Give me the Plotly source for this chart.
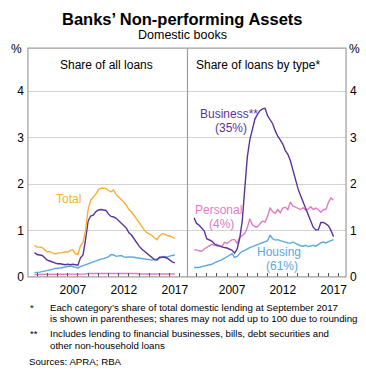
import plotly.graph_objects as go

# ---------------- data (quarterly, Sep 2003 - Jun 2017) ----------------
dates = [2003.75 + 0.25 * i for i in range(56)]

total_all = [0.68, 0.64, 0.64, 0.63, 0.58, 0.54, 0.54, 0.52, 0.49, 0.51,
             0.51, 0.52, 0.54, 0.53, 0.57, 0.58, 0.50, 0.48, 0.67, 0.74,
             1.00, 1.45, 1.65, 1.71, 1.78, 1.87, 1.91, 1.91, 1.90, 1.86,
             1.83, 1.87, 1.77, 1.72, 1.67, 1.61, 1.54, 1.45, 1.40, 1.32,
             1.25, 1.17, 1.08, 1.01, 0.95, 0.92, 0.89, 0.84, 0.80, 0.88,
             0.93, 0.92, 0.89, 0.88, 0.86, 0.83]
business_all = [0.52, 0.48, 0.47, 0.46, 0.41, 0.36, 0.34, 0.32, 0.30, 0.28,
                0.28, 0.27, 0.26, 0.27, 0.26, 0.27, 0.26, 0.25, 0.41, 0.47,
                0.80, 1.20, 1.31, 1.33, 1.40, 1.44, 1.45, 1.44, 1.43, 1.35,
                1.30, 1.29, 1.26, 1.21, 1.16, 1.11, 1.05, 0.95, 0.90, 0.82,
                0.73, 0.66, 0.60, 0.55, 0.50, 0.45, 0.41, 0.37, 0.36, 0.42,
                0.42, 0.42, 0.40, 0.35, 0.32, 0.30]
housing_all = [0.09, 0.09, 0.10, 0.11, 0.12, 0.13, 0.14, 0.16, 0.18, 0.18,
               0.19, 0.20, 0.21, 0.21, 0.23, 0.22, 0.20, 0.19, 0.22, 0.24,
               0.26, 0.28, 0.31, 0.33, 0.35, 0.36, 0.38, 0.39, 0.41, 0.43,
               0.48, 0.47, 0.44, 0.45, 0.46, 0.43, 0.42, 0.43, 0.43, 0.42,
               0.41, 0.40, 0.40, 0.39, 0.37, 0.36, 0.36, 0.37, 0.38, 0.40,
               0.43, 0.44, 0.43, 0.45, 0.46, 0.47]
personal_all = [0.05, 0.05, 0.05, 0.05, 0.05, 0.05, 0.05, 0.05, 0.05, 0.05,
                0.05, 0.05, 0.05, 0.05, 0.05, 0.05, 0.05, 0.05, 0.06, 0.06,
                0.06, 0.07, 0.07, 0.07, 0.07, 0.07, 0.07, 0.07, 0.08, 0.08,
                0.08, 0.08, 0.07, 0.07, 0.07, 0.07, 0.07, 0.07, 0.07, 0.07,
                0.07, 0.06, 0.06, 0.06, 0.06, 0.06, 0.06, 0.06, 0.06, 0.06,
                0.06, 0.06, 0.06, 0.06, 0.06, 0.06]

business = [1.27, 1.15, 1.11, 1.05, 0.99, 0.82, 0.80, 0.77, 0.71, 0.67,
            0.66, 0.64, 0.63, 0.62, 0.60, 0.57, 0.51, 0.60, 0.83, 1.20,
            1.90, 2.58, 2.95, 3.21, 3.40, 3.50, 3.58, 3.62, 3.63, 3.47,
            3.39, 3.30, 3.15, 3.03, 2.95, 2.86, 2.72, 2.64, 2.50, 2.28,
            2.08, 1.90, 1.75, 1.62, 1.45, 1.33, 1.22, 1.07, 1.01, 1.01,
            1.17, 1.17, 1.14, 1.10, 1.00, 0.87]
personal = [0.58, 0.58, 0.56, 0.55, 0.60, 0.64, 0.68, 0.70, 0.68, 0.70,
            0.67, 0.65, 0.74, 0.72, 0.76, 0.80, 0.80, 0.72, 0.85, 0.89,
            0.93, 1.06, 1.25, 1.12, 1.08, 1.08, 1.15, 1.20, 1.18, 1.30,
            1.49, 1.40, 1.37, 1.45, 1.38, 1.48, 1.50, 1.45, 1.61, 1.52,
            1.50, 1.48, 1.45, 1.49, 1.44, 1.46, 1.51, 1.45, 1.48, 1.45,
            1.39, 1.45, 1.45, 1.60, 1.70, 1.65]
housing = [0.20, 0.20, 0.20, 0.22, 0.23, 0.24, 0.25, 0.27, 0.30, 0.32,
           0.35, 0.37, 0.40, 0.44, 0.47, 0.50, 0.42, 0.44, 0.50, 0.55,
           0.57, 0.61, 0.63, 0.65, 0.67, 0.69, 0.71, 0.74, 0.76, 0.78,
           0.90, 0.82, 0.79, 0.80, 0.78, 0.76, 0.75, 0.73, 0.72, 0.75,
           0.72, 0.69, 0.67, 0.66, 0.68, 0.65, 0.66, 0.68, 0.66, 0.70,
           0.73, 0.75, 0.73, 0.76, 0.78, 0.80]

year_ticks = [2007.5, 2012.5, 2017.5]
year_labels = ["2007", "2012", "2017"]
y_ticks = [0, 1, 2, 3, 4]

# ---------------- styling ----------------
W, H = 366, 378
ORANGE = "#F9AE2F"
PURPLE = "#5B3499"
PINK = "#E07CC4"
BLUE = "#5BA8DC"
FONT = "Liberation Sans, Arial, sans-serif"
BORDER = "#9E9E9E"


def px(x):
    return x / W


def py(y):
    return 1 - y / H


L, MID, R, TOP, BOT = 28, 188, 347, 49, 282

fig = go.Figure()

lw = 1.4
fig.add_trace(go.Scatter(x=dates, y=personal_all, mode="lines", line=dict(color=PINK, width=lw), xaxis="x", yaxis="y"))
fig.add_trace(go.Scatter(x=dates, y=housing_all, mode="lines", line=dict(color=BLUE, width=lw), xaxis="x", yaxis="y"))
fig.add_trace(go.Scatter(x=dates, y=business_all, mode="lines", line=dict(color=PURPLE, width=lw), xaxis="x", yaxis="y"))
fig.add_trace(go.Scatter(x=dates, y=total_all, mode="lines", line=dict(color=ORANGE, width=lw), xaxis="x", yaxis="y"))

fig.add_trace(go.Scatter(x=dates, y=housing, mode="lines", line=dict(color=BLUE, width=lw), xaxis="x2", yaxis="y2"))
fig.add_trace(go.Scatter(x=dates, y=personal, mode="lines", line=dict(color=PINK, width=lw), xaxis="x2", yaxis="y2"))
fig.add_trace(go.Scatter(x=dates, y=business, mode="lines", line=dict(color=PURPLE, width=lw), xaxis="x2", yaxis="y2"))

xrange = [2003.10, 2018.74]
yrange = [0, 4.93]

xcommon = dict(
    range=xrange, tickmode="array", tickvals=year_ticks, ticktext=year_labels,
    ticks="", showgrid=False, zeroline=False, showline=False,
    ticklabelstandoff=4,
    tickfont=dict(size=12, color="#000", family=FONT),
    minor=dict(ticks="inside", ticklen=4, tickcolor="#555", tick0=2004, dtick=1, showgrid=False),
)
ycommon = dict(
    range=yrange, tickmode="array", tickvals=y_ticks, ticks="",
    showgrid=True, gridcolor="#D3D3D3", gridwidth=1, zeroline=False, showline=False,
    ticklabelstandoff=3,
    tickfont=dict(size=12, color="#000", family=FONT),
    domain=[py(BOT), py(TOP)],
)

fig.update_layout(
    width=W, height=H,
    margin=dict(l=0, r=0, t=0, b=0),
    paper_bgcolor="white", plot_bgcolor="white",
    showlegend=False,
    hovermode=False,
    font=dict(family=FONT, color="#000"),
    xaxis=dict(domain=[px(L), px(MID)], anchor="y", **xcommon),
    xaxis2=dict(domain=[px(MID), px(R)], anchor="y2", **xcommon),
    yaxis=dict(anchor="x", side="left", **ycommon),
    yaxis2=dict(anchor="x2", side="right", **ycommon),
)

# frame and divider
fig.add_shape(type="rect", xref="paper", yref="paper", x0=px(L), x1=px(R), y0=py(BOT), y1=py(TOP),
              line=dict(color=BORDER, width=1.2))
fig.add_shape(type="line", xref="paper", yref="paper", x0=px(MID), x1=px(MID), y0=py(BOT), y1=py(TOP),
              line=dict(color=BORDER, width=1.2))


def ann(text, x, y, size=12, color="#000", xanchor="center", bold=False):
    if bold:
        text = "<b>" + text + "</b>"
    fig.add_annotation(text=text, x=px(x), y=py(y), xref="paper", yref="paper",
                       xanchor=xanchor, yanchor="middle", showarrow=False,
                       font=dict(size=size, color=color, family=FONT))


ann("Banks’ Non-performing Assets", 183, 19, size=16.5, bold=True)
ann("Domestic books", 183, 36, size=12.5)
ann("Share of all loans", 107, 66, size=12)
ann("Share of loans by type*", 259, 66, size=12)
ann("%", 17, 50, size=12)
ann("%", 355, 50, size=12)

ann("Total", 69, 203, size=12, color=ORANGE)
ann("Business**", 230, 116, size=12, color=PURPLE)
ann("(35%)", 232, 130, size=12, color=PURPLE)
ann("Personal", 219, 214, size=12, color=PINK)
ann("(4%)", 222, 228, size=12, color=PINK)
ann("Housing", 280, 257, size=12, color=BLUE)
ann("(61%)", 283, 271, size=12, color=BLUE)

fs = 9.7
ann("*", 28, 313, size=fs, xanchor="left")
ann("Each category’s share of total domestic lending at September 2017", 48, 313, size=fs, xanchor="left")
ann("is shown in parentheses; shares may not add up to 100 due to rounding", 48, 325, size=fs, xanchor="left")
ann("**", 28, 340, size=fs, xanchor="left")
ann("Includes lending to financial businesses, bills, debt securities and", 48, 340, size=fs, xanchor="left")
ann("other non-household loans", 48, 352, size=fs, xanchor="left")
ann("Sources: APRA; RBA", 27, 368, size=fs, xanchor="left")

fig.write_html("out.html", config={"displayModeBar": False},
               post_script="document.body.style.margin='0';")
